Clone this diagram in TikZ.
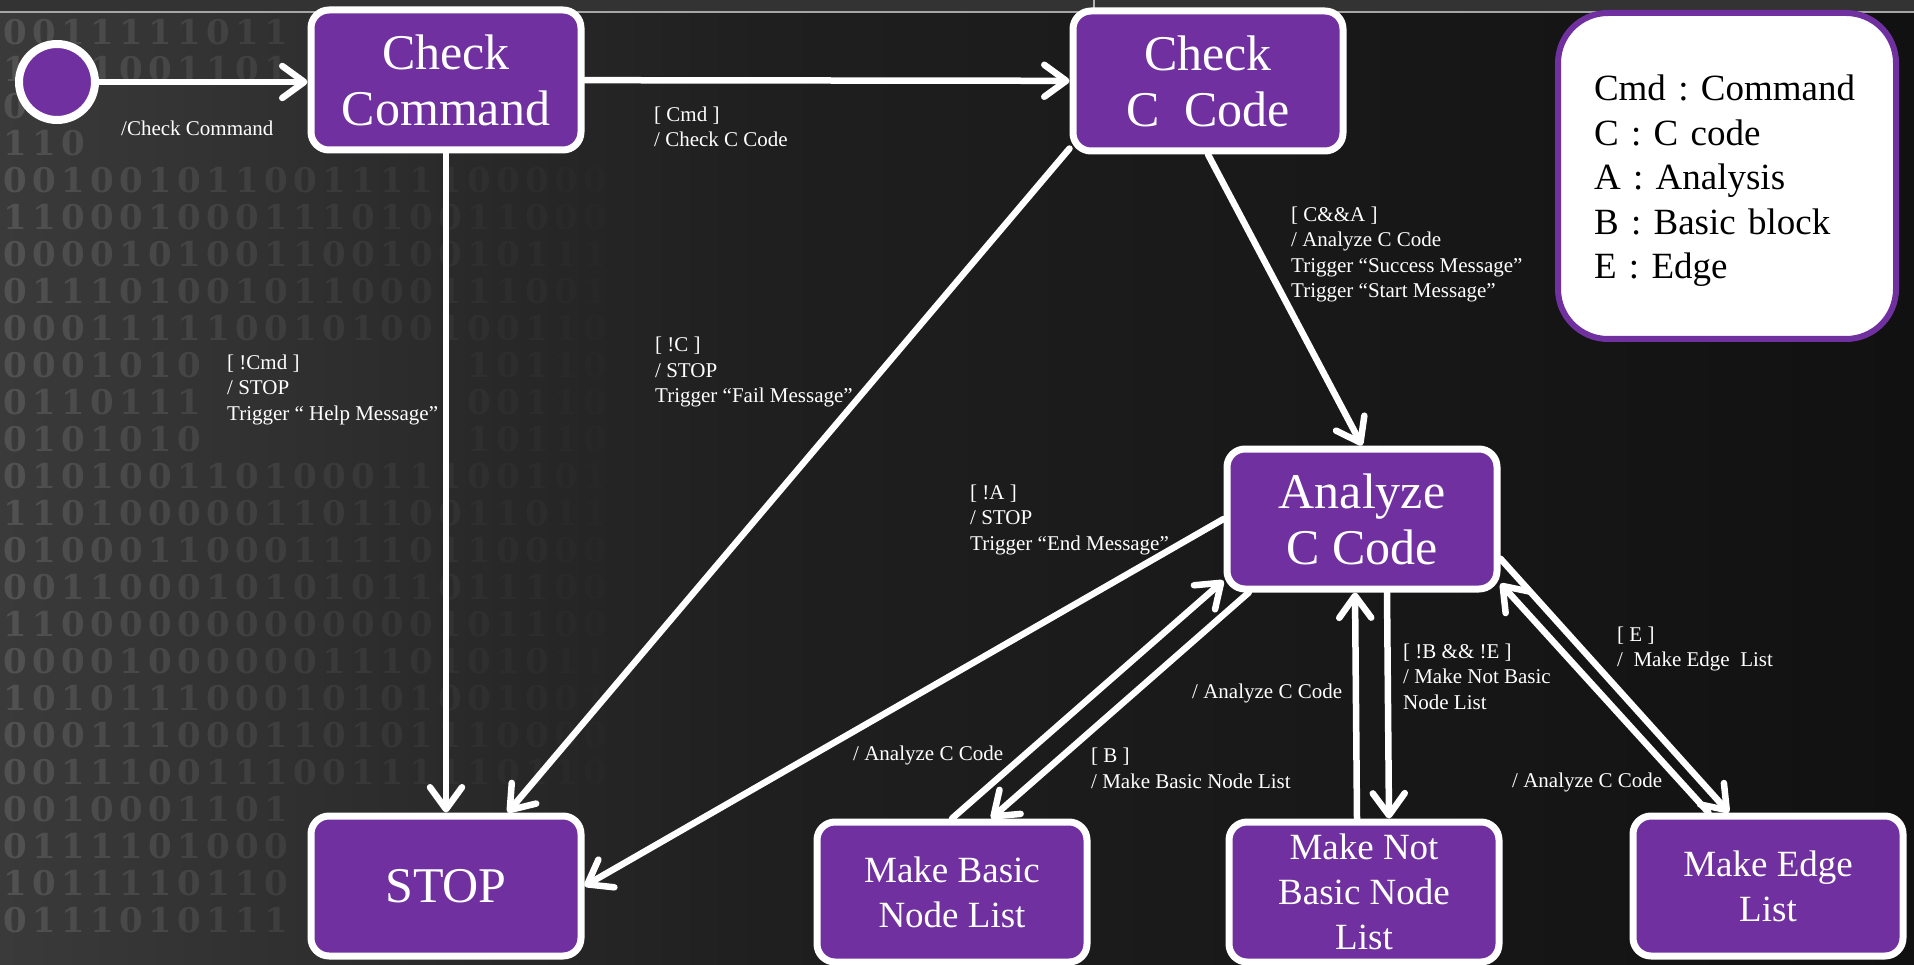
\documentclass[tikz,border=0pt]{standalone}
\usepackage{fontspec}
\setmainfont{Liberation Serif}
\newfontfamily\digitfont{DejaVu Serif}
\usetikzlibrary{arrows.meta}
\definecolor{statepurple}{RGB}{112,48,160}
\definecolor{bgleft}{HTML}{3A3A3A}
\definecolor{bgmid}{HTML}{1F1F1F}
\definecolor{bgright}{HTML}{111111}
\begin{document}
\begin{tikzpicture}[x=1pt,y=-1pt,
    state/.style={draw=white, line width=7pt, fill=statepurple, rounded corners=18pt,
        minimum width=270pt, minimum height=140pt, text=white, align=center, inner sep=0pt},
    bigtxt/.style={font=\fontsize{50}{56}\selectfont},
    smalltxt/.style={font=\fontsize{37}{45}\selectfont},
    trans/.style={draw=white, line width=6.5pt, line cap=round,
        -{Straight Barb[length=22pt,width=32pt,round]}},
    lbl/.style={text=white, font=\fontsize{21}{25.5}\selectfont, align=left,
        inner sep=0pt, anchor=west},
    digit/.style={text=white, font=\digitfont\bfseries\fontsize{34}{34}\selectfont, inner sep=0pt}]
    \useasboundingbox (0,0) rectangle (1914,965);

    \shade[left color=bgleft, right color=bgmid] (0,0) rectangle (760,965);
    \shade[left color=bgmid, right color=bgright] (760,0) rectangle (1914,965);

    \pgfmathsetseed{42}
    \foreach \r in {0,...,24}
        \foreach \c in {0,...,21}{
            \pgfmathrandominteger{\bit}{0}{1}
            \pgfmathsetmacro{\op}{0.12*(1-\c/22)}
            \pgfmathsetmacro{\xx}{15+29*\c}
            \pgfmathsetmacro{\yy}{32+37*\r}
            \pgfmathtruncatemacro{\hide}{(\xx>290)*((\yy<170)+(\yy>795))
                + (\xx>100)*(\xx<295)*(\yy>100)*(\yy<156)
                + (\xx>205)*(\xx<478)*(\yy>335)*(\yy<440)}
            \ifnum\hide=0
                \node[digit, opacity=\op] (bin\r-\c) at (\xx,\yy) {\bit};
            \fi
        }

    \fill[black!80] (0,0) rectangle (1914,11);
    \draw[gray!70, line width=2pt] (0,12) -- (1914,12);
    \draw[gray!60, line width=1.5pt] (1094,0) -- (1094,11);

    \node[circle, draw=white, line width=8pt, fill=statepurple, minimum size=76pt, inner sep=0pt] (init) at (57,82) {};
    \node[state, bigtxt] (cmd) at (446,80) {Check\\Command};
    \node[state, bigtxt] (ccode) at (1208,81) {Check\\C\ \ Code};
    \node[state, bigtxt] (analyze) at (1362,519) {Analyze\\C Code};
    \node[state, bigtxt] (stop) at (446,886) {STOP};
    \node[state, smalltxt] (basic) at (952,892) {Make Basic\\Node List};
    \node[state, smalltxt] (notbasic) at (1364,892) {Make Not\\Basic Node\\List};
    \node[state, smalltxt] (edge) at (1768,886) {Make Edge\\List};

    \node[draw=statepurple, line width=6pt, fill=white, rounded corners=50pt,
        minimum width=338pt, minimum height=326pt] (key) at (1727,176) {};
    \node[text width=266pt, inner sep=0pt, align=left, font=\fontsize{37}{44.5}\selectfont\frenchspacing]
        (keytext) at (1727,181) {Cmd : Command\\C : C code\\A : Analysis\\B : Basic block\\E : Edge};

    \draw[trans] (init) -- (init -| cmd.west);
    \draw[trans] (cmd) -- (ccode);
    \draw[trans] (cmd) -- (stop);
    \draw[trans] (ccode.206) -- (stop.50);
    \draw[trans] (ccode.south) -- (analyze.north);
    \draw[trans] (analyze.west) -- (stop.east);
    \draw[trans] (basic.north) -- (analyze.204);
    \draw[trans] (analyze.213) -- (basic.62);
    \draw[trans] ([xshift=-7pt]notbasic.north) -- ([xshift=-7pt]analyze.south);
    \draw[trans] ([xshift=25pt]analyze.south) -- ([xshift=25pt]notbasic.north);
    \draw[trans] (analyze.-16) -- (edge.118);
    \draw[trans] (edge.129) -- (analyze.-25);

    \node[lbl] (l-init) at (121,128) {/Check Command};
    \node[lbl] (l-cmd) at (654,127) {[ Cmd ]\\/ Check C Code};
    \node[lbl] (l-cca) at (1291,254.5) {[ C\&\&A ]\\/ Analyze C Code\\Trigger “Success Message”\\Trigger “Start Message”};
    \node[lbl] (l-ncmd) at (227,389.5) {[ !Cmd ]\\/ STOP\\Trigger “ Help Message”};
    \node[lbl] (l-nc) at (655,372) {[ !C ]\\/ STOP\\Trigger “Fail Message”};
    \node[lbl] (l-na) at (970,519.5) {[ !A ]\\/ STOP\\Trigger “End Message”};
    \node[lbl] (l-back2) at (1192,693) {/ Analyze C Code};
    \node[lbl] (l-back1) at (853,755) {/ Analyze C Code};
    \node[lbl] (l-b) at (1091,768.5) {[ B ]\\/ Make Basic Node List};
    \node[lbl] (l-nbne) at (1403,676.5) {[ !B \&\& !E ]\\/ Make Not Basic\\Node List};
    \node[lbl] (l-e) at (1617,649) {[ E ]\\/\ \ Make Edge\ \ List};
    \node[lbl] (l-back3) at (1512,782) {/ Analyze C Code};
\end{tikzpicture}
\end{document}
